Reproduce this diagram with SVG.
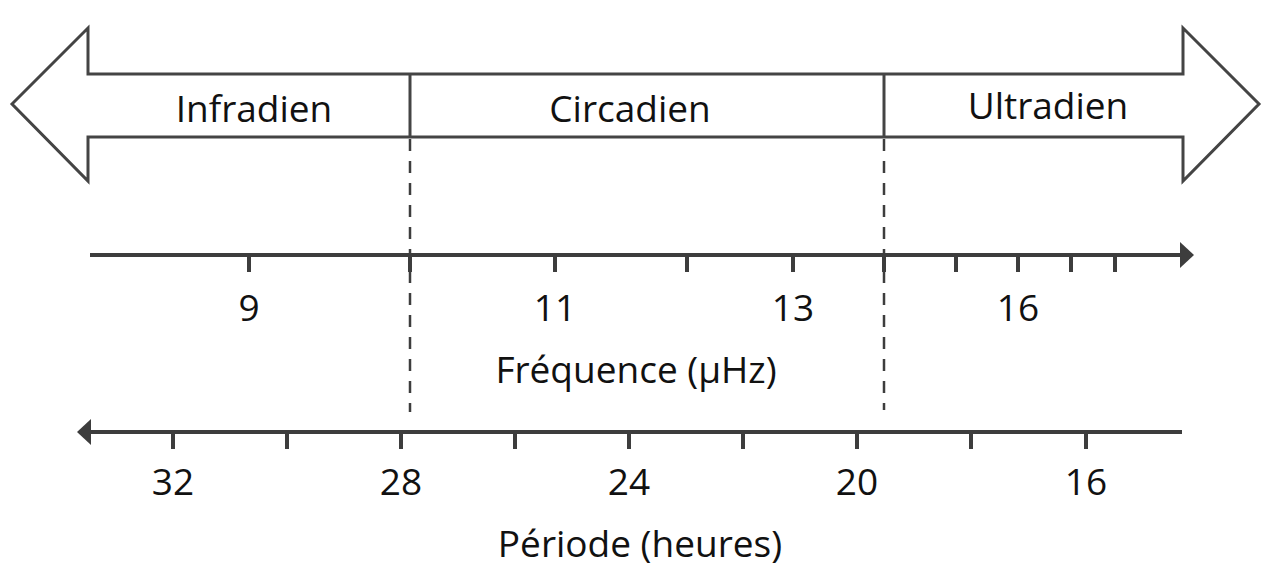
<svg xmlns="http://www.w3.org/2000/svg" width="1280" height="587" viewBox="0 0 1280 587">
<style>
.t{font-family:"Open Sans","Liberation Sans",sans-serif;font-size:37px;fill:#111;text-anchor:middle}
.ax{stroke:#3d3d3d;stroke-width:4;fill:none}
.tk{stroke:#3d3d3d;stroke-width:4}
.dash{stroke:#3d3d3d;stroke-width:2.5;stroke-dasharray:12 10;fill:none}
.big{fill:#fff;stroke:#444;stroke-width:3;stroke-linejoin:miter}
</style>
<rect width="1280" height="587" fill="#fff"/>
<g id="bands">
<path class="big" d="M12,104 L88,28 L88,74 L1183,74 L1183,28 L1259,104 L1183,181 L1183,137 L88,137 L88,181 Z"/>
<line x1="410" y1="74" x2="410" y2="137" stroke="#444" stroke-width="3"/>
<line x1="884" y1="74" x2="884" y2="137" stroke="#444" stroke-width="3"/>
<text class="t" x="254" y="122">Infradien</text>
<text class="t" x="630" y="122">Circadien</text>
<text class="t" x="1048" y="119">Ultradien</text>
</g>
<g id="connectors">
<line class="dash" x1="410" y1="139" x2="410" y2="412"/>
<line class="dash" x1="884" y1="139" x2="884" y2="410"/>
</g>
<g id="freq-axis">
<line class="ax" x1="90" y1="255" x2="1182" y2="255"/>
<path d="M1194,255 L1180,242 L1180,268 Z" fill="#3d3d3d"/>
<g class="tk">
<line x1="249" y1="255" x2="249" y2="272"/>
<line x1="410" y1="255" x2="410" y2="272"/>
<line x1="555" y1="255" x2="555" y2="272"/>
<line x1="687" y1="255" x2="687" y2="272"/>
<line x1="793" y1="255" x2="793" y2="272"/>
<line x1="884" y1="255" x2="884" y2="272"/>
<line x1="956" y1="255" x2="956" y2="272"/>
<line x1="1018" y1="255" x2="1018" y2="272"/>
<line x1="1071" y1="255" x2="1071" y2="272"/>
<line x1="1115" y1="255" x2="1115" y2="272"/>
</g>
<text class="t" x="249" y="321">9</text>
<text class="t" x="555" y="321">11</text>
<text class="t" x="793" y="321">13</text>
<text class="t" x="1018" y="321">16</text>
<text class="t" x="636" y="383">Fréquence (µHz)</text>
</g>
<g id="period-axis">
<line class="ax" x1="90" y1="432" x2="1182" y2="432"/>
<path d="M77,432 L91,419 L91,445 Z" fill="#3d3d3d"/>
<g class="tk">
<line x1="173" y1="432" x2="173" y2="449"/>
<line x1="287" y1="432" x2="287" y2="449"/>
<line x1="401" y1="432" x2="401" y2="449"/>
<line x1="515" y1="432" x2="515" y2="449"/>
<line x1="629" y1="432" x2="629" y2="449"/>
<line x1="743" y1="432" x2="743" y2="449"/>
<line x1="857" y1="432" x2="857" y2="449"/>
<line x1="971" y1="432" x2="971" y2="449"/>
<line x1="1086" y1="432" x2="1086" y2="449"/>
</g>
<text class="t" x="173" y="495">32</text>
<text class="t" x="401" y="495">28</text>
<text class="t" x="629" y="495">24</text>
<text class="t" x="857" y="495">20</text>
<text class="t" x="1086" y="495">16</text>
<text class="t" x="640" y="557">Période (heures)</text>
</g>
</svg>
